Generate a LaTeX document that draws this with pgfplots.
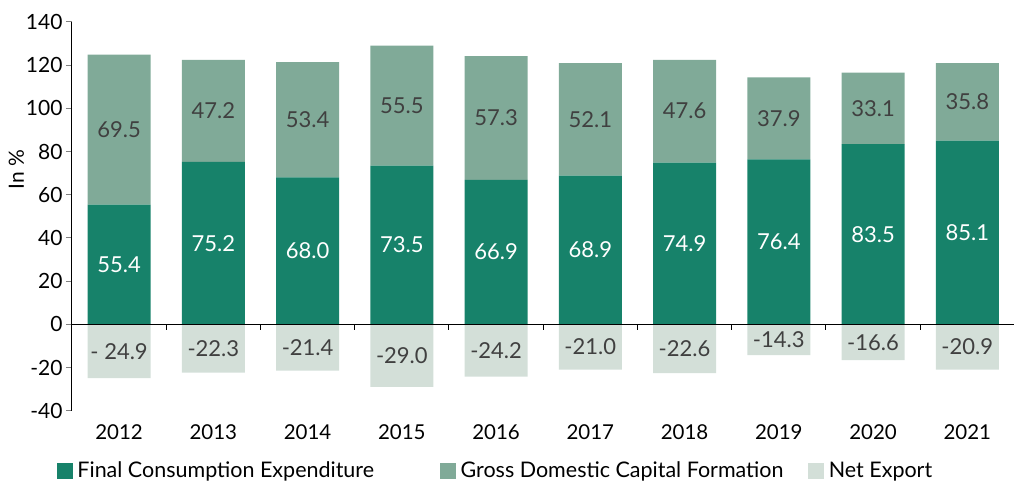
\documentclass[border=0pt]{standalone}
\usepackage{pgfplots}
\usepackage{pgfplotstable}
\pgfplotsset{compat=1.18}
\usepackage{fontspec}
\setmainfont{Lato}

\definecolor{fcec}{HTML}{17826A}
\definecolor{gdcfc}{HTML}{80AA98}
\definecolor{nexc}{HTML}{D3DFD8}
\definecolor{lblc}{HTML}{404040}

% shares of GDP by expenditure, in %
\pgfplotstableread{
x year fce gdcf ne nel
0 2012 55.4 69.5 -24.9 {- 24.9}
1 2013 75.2 47.2 -22.3 -22.3
2 2014 68.0 53.4 -21.4 -21.4
3 2015 73.5 55.5 -29.0 -29.0
4 2016 66.9 57.3 -24.2 -24.2
5 2017 68.9 52.1 -21.0 -21.0
6 2018 74.9 47.6 -22.6 -22.6
7 2019 76.4 37.9 -14.3 -14.3
8 2020 83.5 33.1 -16.6 -16.6
9 2021 85.1 35.8 -20.9 -20.9
}\gdp

\pgfplotsset{
  base/.style={
    width=943pt, height=389pt, scale only axis,
    xmin=-0.5, xmax=9.5, ymin=-40, ymax=140,
    clip=false,
  },
  lbl/.style={
    only marks, mark=none, nodes near coords,
    point meta=explicit symbolic,
    every node near coord/.append style={anchor=center, font=\fontsize{22}{24}\selectfont, text=#1},
  },
}

\begin{document}
\begin{tikzpicture}
\begin{axis}[base,
  ybar stacked, bar width=63pt,
  axis y line*=left, axis x line*=bottom,
  x axis line style={draw=none},
  xtick={0,...,9},
  xticklabels={2012,2013,2014,2015,2016,2017,2018,2019,2020,2021},
  xtick style={draw=none},
  ytick={-40,-20,...,140},
  tick align=outside, major tick length=6pt,
  y axis line style={line width=1pt},
  ytick style={line width=1pt},
  /pgf/number format/assume math mode=true,
  yticklabel style={font=\fontsize{21}{24}\selectfont},
  xticklabel style={font=\fontsize{20.5}{22}\selectfont, yshift=-4pt},
  ylabel={In \%},
  ylabel style={font=\fontsize{21}{24}\selectfont, at={(axis description cs:-0.047,0.62)}, anchor=south},
]
\addplot[fill=fcec, draw=none, forget plot] table[x=x, y=fce] {\gdp};
\addplot[fill=gdcfc, draw=none, forget plot] table[x=x, y=gdcf] {\gdp};
\coordinate (tl) at (rel axis cs:0,1);
\end{axis}

\begin{axis}[base,
  axis lines=none,
  legend columns=3,
  legend style={at={(axis description cs:-0.016,-0.154)}, anchor=west,
    draw=none, fill=none, inner sep=0pt,
    font=\fontsize{21.5}{24}\selectfont,
    nodes={inner sep=0pt},
    /tikz/every odd column/.append style={column sep=5pt}},
]
\addplot[ybar, bar width=63pt, bar shift=0pt, fill=nexc, draw=none, forget plot] table[x=x, y=ne] {\gdp};
\draw[line width=1.2pt] (axis cs:-0.5,0) -- (axis cs:9.5,0);
\pgfplotsinvokeforeach{0.5,1.5,2.5,3.5,4.5,5.5,6.5,7.5,8.5}{
  \draw[line width=1pt] (axis cs:#1,0) -- ++(0pt,-6pt);
}
\addplot[lbl=white, forget plot] table[x=x, y expr=\thisrow{fce}/2, meta=fce] {\gdp};
\addplot[lbl=lblc, forget plot] table[x=x, y expr=\thisrow{fce}+\thisrow{gdcf}/2, meta=gdcf] {\gdp};
\addplot[lbl=lblc, forget plot] table[x=x, y expr=\thisrow{ne}/2, meta=nel] {\gdp};
\addlegendimage{legend image code/.code={\fill[fcec] (0pt,-7.5pt) rectangle (15pt,7.5pt);}}
\addlegendentry{\makebox[363pt][l]{Final Consumption Expenditure}}
\addlegendimage{legend image code/.code={\fill[gdcfc] (0pt,-7.5pt) rectangle (15pt,7.5pt);}}
\addlegendentry{\makebox[348pt][l]{Gross Domestic Capital Formation}}
\addlegendimage{legend image code/.code={\fill[nexc] (0pt,-7.5pt) rectangle (15pt,7.5pt);}}
\addlegendentry{Net Export}
\end{axis}
\path (tl) ++(-72pt,22pt) rectangle ++(1015pt,-484pt);
\end{tikzpicture}
\end{document}
